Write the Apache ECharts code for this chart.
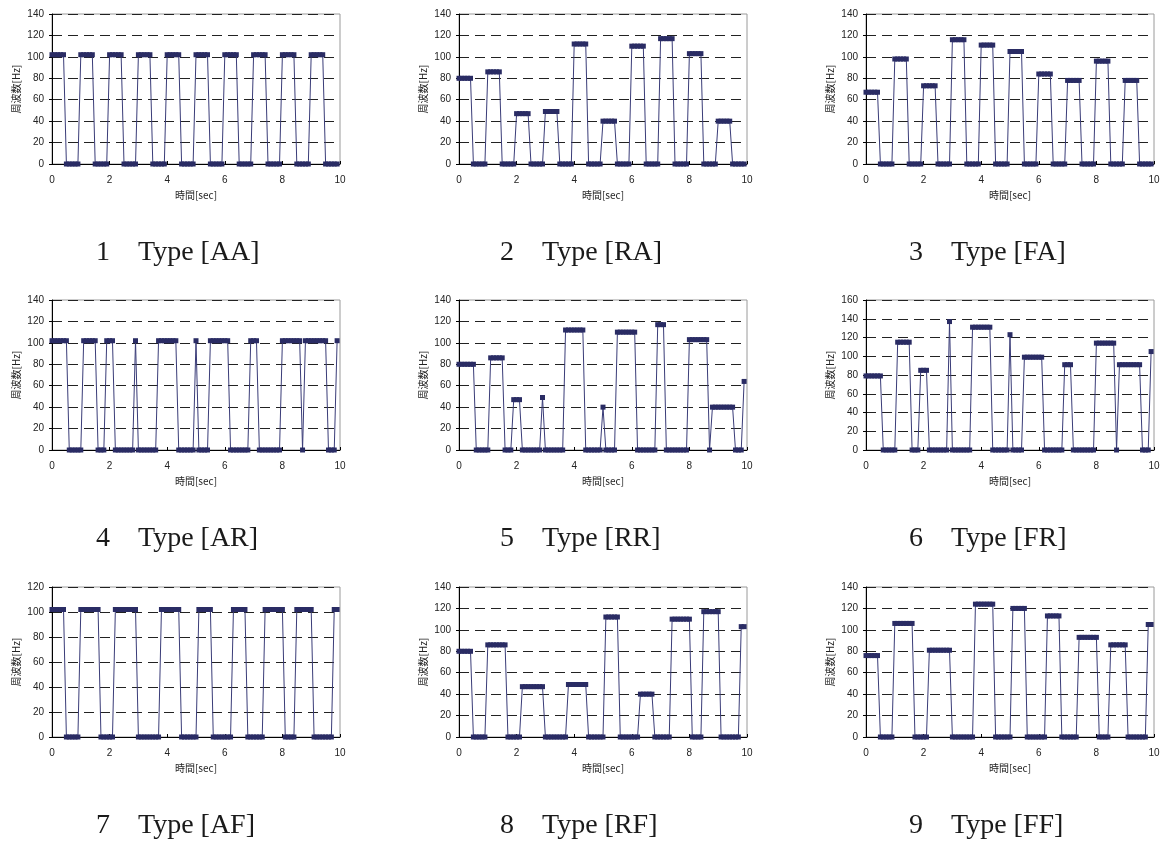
<!DOCTYPE html>
<html>
<head>
<meta charset="utf-8">
<script src="https://cdn.jsdelivr.net/npm/echarts/dist/echarts.min.js"></script>
<style>
  html, body { margin: 0; padding: 0; background: #fff; }
  #chart { width: 1164px; height: 843px; }
</style>
</head>
<body>
<div id="chart"></div>
<script>
// Sample times [sec], 0.1 s step
const TIME = [
  0, 0.1, 0.2, 0.3, 0.4, 0.5, 0.6, 0.7, 0.8, 0.9,
  1, 1.1, 1.2, 1.3, 1.4, 1.5, 1.6, 1.7, 1.8, 1.9,
  2, 2.1, 2.2, 2.3, 2.4, 2.5, 2.6, 2.7, 2.8, 2.9,
  3, 3.1, 3.2, 3.3, 3.4, 3.5, 3.6, 3.7, 3.8, 3.9,
  4, 4.1, 4.2, 4.3, 4.4, 4.5, 4.6, 4.7, 4.8, 4.9,
  5, 5.1, 5.2, 5.3, 5.4, 5.5, 5.6, 5.7, 5.8, 5.9,
  6, 6.1, 6.2, 6.3, 6.4, 6.5, 6.6, 6.7, 6.8, 6.9,
  7, 7.1, 7.2, 7.3, 7.4, 7.5, 7.6, 7.7, 7.8, 7.9,
  8, 8.1, 8.2, 8.3, 8.4, 8.5, 8.6, 8.7, 8.8, 8.9,
  9, 9.1, 9.2, 9.3, 9.4, 9.5, 9.6, 9.7, 9.8, 9.9
];

// Frequency [Hz] per sample
const TYPE_AA = [
  102, 102, 102, 102, 102, 0, 0, 0, 0, 0,
  102, 102, 102, 102, 102, 0, 0, 0, 0, 0,
  102, 102, 102, 102, 102, 0, 0, 0, 0, 0,
  102, 102, 102, 102, 102, 0, 0, 0, 0, 0,
  102, 102, 102, 102, 102, 0, 0, 0, 0, 0,
  102, 102, 102, 102, 102, 0, 0, 0, 0, 0,
  102, 102, 102, 102, 102, 0, 0, 0, 0, 0,
  102, 102, 102, 102, 102, 0, 0, 0, 0, 0,
  102, 102, 102, 102, 102, 0, 0, 0, 0, 0,
  102, 102, 102, 102, 102, 0, 0, 0, 0, 0
];

const TYPE_RA = [
  80, 80, 80, 80, 80, 0, 0, 0, 0, 0,
  86, 86, 86, 86, 86, 0, 0, 0, 0, 0,
  47, 47, 47, 47, 47, 0, 0, 0, 0, 0,
  49, 49, 49, 49, 49, 0, 0, 0, 0, 0,
  112, 112, 112, 112, 112, 0, 0, 0, 0, 0,
  40, 40, 40, 40, 40, 0, 0, 0, 0, 0,
  110, 110, 110, 110, 110, 0, 0, 0, 0, 0,
  117, 117, 117, 117, 117, 0, 0, 0, 0, 0,
  103, 103, 103, 103, 103, 0, 0, 0, 0, 0,
  40, 40, 40, 40, 40, 0, 0, 0, 0, 0
];

const TYPE_FA = [
  67, 67, 67, 67, 67, 0, 0, 0, 0, 0,
  98, 98, 98, 98, 98, 0, 0, 0, 0, 0,
  73, 73, 73, 73, 73, 0, 0, 0, 0, 0,
  116, 116, 116, 116, 116, 0, 0, 0, 0, 0,
  111, 111, 111, 111, 111, 0, 0, 0, 0, 0,
  105, 105, 105, 105, 105, 0, 0, 0, 0, 0,
  84, 84, 84, 84, 84, 0, 0, 0, 0, 0,
  78, 78, 78, 78, 78, 0, 0, 0, 0, 0,
  96, 96, 96, 96, 96, 0, 0, 0, 0, 0,
  78, 78, 78, 78, 78, 0, 0, 0, 0, 0
];

const TYPE_AR = [
  102, 102, 102, 102, 102, 102, 0, 0, 0, 0,
  0, 102, 102, 102, 102, 102, 0, 0, 0, 102,
  102, 102, 0, 0, 0, 0, 0, 0, 0, 102,
  0, 0, 0, 0, 0, 0, 0, 102, 102, 102,
  102, 102, 102, 102, 0, 0, 0, 0, 0, 0,
  102, 0, 0, 0, 0, 102, 102, 102, 102, 102,
  102, 102, 0, 0, 0, 0, 0, 0, 0, 102,
  102, 102, 0, 0, 0, 0, 0, 0, 0, 0,
  102, 102, 102, 102, 102, 102, 102, 0, 102, 102,
  102, 102, 102, 102, 102, 102, 0, 0, 0, 102
];

const TYPE_RR = [
  80, 80, 80, 80, 80, 80, 0, 0, 0, 0,
  0, 86, 86, 86, 86, 86, 0, 0, 0, 47,
  47, 47, 0, 0, 0, 0, 0, 0, 0, 49,
  0, 0, 0, 0, 0, 0, 0, 112, 112, 112,
  112, 112, 112, 112, 0, 0, 0, 0, 0, 0,
  40, 0, 0, 0, 0, 110, 110, 110, 110, 110,
  110, 110, 0, 0, 0, 0, 0, 0, 0, 117,
  117, 117, 0, 0, 0, 0, 0, 0, 0, 0,
  103, 103, 103, 103, 103, 103, 103, 0, 40, 40,
  40, 40, 40, 40, 40, 40, 0, 0, 0, 64
];

const TYPE_FR = [
  79, 79, 79, 79, 79, 79, 0, 0, 0, 0,
  0, 115, 115, 115, 115, 115, 0, 0, 0, 85,
  85, 85, 0, 0, 0, 0, 0, 0, 0, 137,
  0, 0, 0, 0, 0, 0, 0, 131, 131, 131,
  131, 131, 131, 131, 0, 0, 0, 0, 0, 0,
  123, 0, 0, 0, 0, 99, 99, 99, 99, 99,
  99, 99, 0, 0, 0, 0, 0, 0, 0, 91,
  91, 91, 0, 0, 0, 0, 0, 0, 0, 0,
  114, 114, 114, 114, 114, 114, 114, 0, 91, 91,
  91, 91, 91, 91, 91, 91, 0, 0, 0, 105
];

const TYPE_AF = [
  102, 102, 102, 102, 102, 0, 0, 0, 0, 0,
  102, 102, 102, 102, 102, 102, 102, 0, 0, 0,
  0, 0, 102, 102, 102, 102, 102, 102, 102, 102,
  0, 0, 0, 0, 0, 0, 0, 0, 102, 102,
  102, 102, 102, 102, 102, 0, 0, 0, 0, 0,
  0, 102, 102, 102, 102, 102, 0, 0, 0, 0,
  0, 0, 0, 102, 102, 102, 102, 102, 0, 0,
  0, 0, 0, 0, 102, 102, 102, 102, 102, 102,
  102, 0, 0, 0, 0, 102, 102, 102, 102, 102,
  102, 0, 0, 0, 0, 0, 0, 0, 102, 102
];

const TYPE_RF = [
  80, 80, 80, 80, 80, 0, 0, 0, 0, 0,
  86, 86, 86, 86, 86, 86, 86, 0, 0, 0,
  0, 0, 47, 47, 47, 47, 47, 47, 47, 47,
  0, 0, 0, 0, 0, 0, 0, 0, 49, 49,
  49, 49, 49, 49, 49, 0, 0, 0, 0, 0,
  0, 112, 112, 112, 112, 112, 0, 0, 0, 0,
  0, 0, 0, 40, 40, 40, 40, 40, 0, 0,
  0, 0, 0, 0, 110, 110, 110, 110, 110, 110,
  110, 0, 0, 0, 0, 117, 117, 117, 117, 117,
  117, 0, 0, 0, 0, 0, 0, 0, 103, 103
];

const TYPE_FF = [
  76, 76, 76, 76, 76, 0, 0, 0, 0, 0,
  106, 106, 106, 106, 106, 106, 106, 0, 0, 0,
  0, 0, 81, 81, 81, 81, 81, 81, 81, 81,
  0, 0, 0, 0, 0, 0, 0, 0, 124, 124,
  124, 124, 124, 124, 124, 0, 0, 0, 0, 0,
  0, 120, 120, 120, 120, 120, 0, 0, 0, 0,
  0, 0, 0, 113, 113, 113, 113, 113, 0, 0,
  0, 0, 0, 0, 93, 93, 93, 93, 93, 93,
  93, 0, 0, 0, 0, 86, 86, 86, 86, 86,
  86, 0, 0, 0, 0, 0, 0, 0, 105, 105
];

// Panel captions and y-axis maxima
const CAPTIONS = [
  '1\u3000Type [AA]', '2\u3000Type [RA]', '3\u3000Type [FA]',
  '4\u3000Type [AR]', '5\u3000Type [RR]', '6\u3000Type [FR]',
  '7\u3000Type [AF]', '8\u3000Type [RF]', '9\u3000Type [FF]'
];
const Y_MAX = [140, 140, 140, 140, 140, 160, 120, 140, 140];
const X_TICKS = [0, 2, 4, 6, 8, 10];
const X_NAME = '時間[sec]';
const Y_NAME = '周波数[Hz]';

const PANEL_DATA = [TYPE_AA, TYPE_RA, TYPE_FA, TYPE_AR, TYPE_RR, TYPE_FR, TYPE_AF, TYPE_RF, TYPE_FF];

// Layout of the 3x3 grid of small charts
const COL_LEFT = [52, 459, 866];
const ROW_TOP = [14, 300, 587];
const PLOT_W = 288;
const PLOT_H = 150;
const CAPTION_X = [96, 500, 909];
const CAPTION_DY = 239;

const LINE_COLOR = '#3a3c78';
const MARK_COLOR = '#2a2c64';
const TICK_FONT = { fontFamily: '"Liberation Sans", Arial, sans-serif', fontSize: 10, color: '#222' };
const NAME_FONT = { fontFamily: '"Noto Sans CJK JP", sans-serif', fontSize: 10, color: '#222' };

const grids = [], xAxes = [], yAxes = [], series = [], graphics = [];

PANEL_DATA.forEach((values, i) => {
  const row = Math.floor(i / 3), col = i % 3;
  grids.push({
    left: COL_LEFT[col], top: ROW_TOP[row], width: PLOT_W, height: PLOT_H,
    show: true, borderColor: '#9a9a9a', borderWidth: 1, backgroundColor: 'transparent'
  });
  xAxes.push({
    type: 'value', gridIndex: i, min: X_TICKS[0], max: X_TICKS[X_TICKS.length - 1], interval: 2,
    name: X_NAME, nameLocation: 'middle', nameGap: 26, nameTextStyle: NAME_FONT,
    axisLine: { show: true, onZero: false, lineStyle: { color: '#000', width: 1 } },
    axisTick: { show: true, inside: true, length: 3, lineStyle: { color: '#000' } },
    axisLabel: Object.assign({ margin: 11 }, TICK_FONT),
    splitLine: { show: false }
  });
  yAxes.push({
    type: 'value', gridIndex: i, min: 0, max: Y_MAX[i], interval: 20,
    name: Y_NAME, nameLocation: 'middle', nameGap: 31, nameRotate: 90, nameTextStyle: NAME_FONT,
    axisLine: { show: true, lineStyle: { color: '#000', width: 1 } },
    axisTick: { show: true, inside: false, length: 3, lineStyle: { color: '#000' } },
    axisLabel: Object.assign({ margin: 8 }, TICK_FONT),
    splitLine: { show: true, lineStyle: { color: '#222', width: 1, type: [10, 6] } }
  });
  series.push({
    type: 'line', xAxisIndex: i, yAxisIndex: i,
    data: TIME.map((t, j) => [t, values[j]]),
    symbol: 'rect', symbolSize: [5, 5], showSymbol: true, showAllSymbol: true,
    lineStyle: { color: LINE_COLOR, width: 1 },
    itemStyle: { color: MARK_COLOR },
    emphasis: { disabled: true },
    clip: false, animation: false
  });
  graphics.push({
    type: 'text',
    x: CAPTION_X[col], y: ROW_TOP[row] + CAPTION_DY,
    style: {
      text: CAPTIONS[i],
      fontFamily: '"Liberation Serif", "Noto Sans CJK JP", serif',
      fontSize: 28, fill: '#1a1a1a',
      align: 'left', verticalAlign: 'middle'
    }
  });
});

const chart = echarts.init(document.getElementById('chart'), null, { renderer: 'canvas' });
chart.setOption({
  animation: false,
  backgroundColor: '#ffffff',
  grid: grids,
  xAxis: xAxes,
  yAxis: yAxes,
  series: series,
  graphic: graphics
});
</script>
</body>
</html>
